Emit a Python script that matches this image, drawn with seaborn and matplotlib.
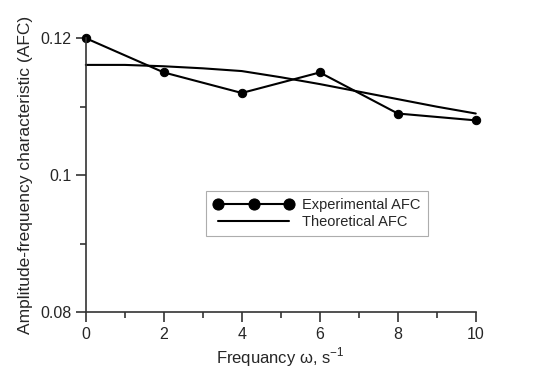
import matplotlib
matplotlib.use('Agg')
import matplotlib.pyplot as plt
import seaborn as sns
import pandas as pd
from matplotlib.ticker import MultipleLocator

sns.set_style('ticks')
plt.rcParams['font.family'] = ['Liberation Sans', 'DejaVu Sans']
plt.rcParams['mathtext.fontset'] = 'custom'
plt.rcParams['mathtext.rm'] = 'Liberation Sans'

# Experimental AFC (measured points)
freq_exp = [0, 2, 4, 6, 8, 10]
afc_exp = [0.120, 0.115, 0.112, 0.115, 0.109, 0.108]

# Theoretical AFC
freq_theor = [0, 1, 2, 3, 4, 5, 6, 7, 8, 9, 10]
afc_theor = [0.1161, 0.1161, 0.1159, 0.1156, 0.1152, 0.1143, 0.1133, 0.1122, 0.1111, 0.1100, 0.1090]

df_exp = pd.DataFrame({'freq': freq_exp, 'afc': afc_exp})
df_theor = pd.DataFrame({'freq': freq_theor, 'afc': afc_theor})

fig = plt.figure(figsize=(5.5, 3.82), dpi=100)
ax = fig.add_axes([0.156, 0.183, 0.709, 0.717])

sns.lineplot(data=df_exp, x='freq', y='afc', ax=ax, color='black', lw=1.5,
             marker='o', markersize=6, markeredgecolor='black', label='Experimental AFC')
sns.lineplot(data=df_theor, x='freq', y='afc', ax=ax, color='black', lw=1.5,
             label='Theoretical AFC')

ax.set_xlim(0, 10)
ax.set_ylim(0.08, 0.12)
ax.set_xticks([0, 2, 4, 6, 8, 10])
ax.set_xticklabels(['0', '2', '4', '6', '8', '10'])
ax.xaxis.set_minor_locator(MultipleLocator(1))
ax.set_yticks([0.08, 0.1, 0.12])
ax.set_yticklabels(['0.08', '0.1', '0.12'])
ax.yaxis.set_minor_locator(MultipleLocator(0.01))
ax.tick_params(which='major', length=7, width=1.2, labelsize=11.5, color='#333333')
ax.tick_params(which='minor', length=4.5, width=1.2, color='#333333')
for s in ['left', 'bottom']:
    ax.spines[s].set_linewidth(1.2)
    ax.spines[s].set_color('#333333')
sns.despine(ax=ax)
for line in ax.lines:
    line.set_clip_on(False)

ax.set_xlabel('Frequancy ω, s$^{-1}$', fontsize=12, labelpad=3)
ax.set_ylabel('Amplitude-frequency characteristic (AFC)', fontsize=12.5, labelpad=5)

leg = ax.legend(loc='lower left', bbox_to_anchor=(0.29, 0.25), frameon=True,
                fancybox=False, edgecolor='#999999', fontsize=10.5, numpoints=3,
                handlelength=5.5, borderpad=0.5, labelspacing=0.2, handletextpad=0.6)
leg.get_frame().set_linewidth(0.8)
for h in leg.legend_handles:
    if h.get_marker() == 'o':
        h.set_markersize(8)

fig.savefig('out.png', dpi=100)
